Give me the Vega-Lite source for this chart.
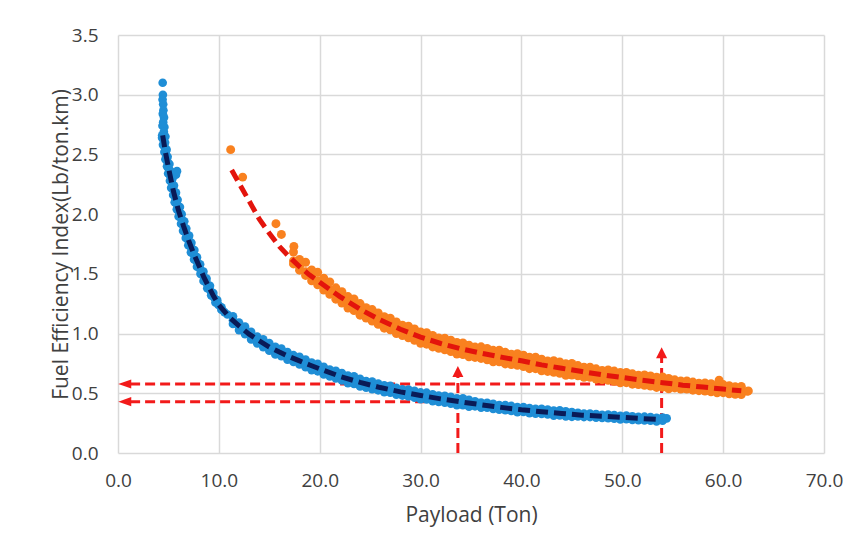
{
  "$schema": "https://vega.github.io/schema/vega-lite/v6.json",
  "width": 706,
  "height": 418,
  "autosize": "none",
  "padding": {"left": 118, "top": 35, "right": 27, "bottom": 91},
  "background": "white",
  "config": {
    "view": {"stroke": null},
    "font": "Open Sans",
    "axis": {
      "grid": true, "gridColor": "#d9d9d9", "gridWidth": 1.5,
      "domain": false, "ticks": false, "labelFlush": false,
      "labelFont": "Open Sans", "labelFontSize": 19, "labelColor": "#404040",
      "titleFont": "Open Sans", "titleFontSize": 21, "titleColor": "#404040", "titleFontWeight": "normal"
    }
  },
  "datasets": {
    "blue": [
      {"x":4.43,"y":3.10},{"x":4.45,"y":3.00},{"x":4.42,"y":2.96},{"x":4.48,"y":2.92},{"x":4.50,"y":2.87},{"x":4.44,"y":2.84},{"x":4.56,"y":2.81},{"x":4.48,"y":2.77},{"x":4.60,"y":2.73},{"x":4.41,"y":2.74},{"x":4.55,"y":2.69},{"x":4.38,"y":2.66},{"x":4.70,"y":2.65},
      {"x":4.37,"y":2.64},{"x":4.52,"y":2.62},{"x":4.67,"y":2.60},
      {"x":4.46,"y":2.58},{"x":4.64,"y":2.56},{"x":4.82,"y":2.54},
      {"x":4.60,"y":2.52},{"x":4.76,"y":2.50},{"x":4.92,"y":2.48},
      {"x":4.70,"y":2.46},{"x":4.90,"y":2.44},{"x":5.10,"y":2.42},
      {"x":4.86,"y":2.40},{"x":5.04,"y":2.38},{"x":5.22,"y":2.36},
      {"x":4.97,"y":2.34},{"x":5.19,"y":2.32},{"x":5.41,"y":2.30},
      {"x":5.15,"y":2.28},{"x":5.35,"y":2.26},{"x":5.55,"y":2.24},
      {"x":5.27,"y":2.22},{"x":5.51,"y":2.20},{"x":5.75,"y":2.18},
      {"x":5.47,"y":2.16},{"x":5.69,"y":2.14},{"x":5.91,"y":2.12},
      {"x":5.62,"y":2.10},{"x":5.88,"y":2.08},{"x":6.14,"y":2.06},
      {"x":5.83,"y":2.04},{"x":6.07,"y":2.02},{"x":6.31,"y":2.00},
      {"x":6.01,"y":1.98},{"x":6.29,"y":1.96},{"x":6.57,"y":1.94},
      {"x":6.25,"y":1.92},{"x":6.51,"y":1.90},{"x":6.77,"y":1.88},
      {"x":6.45,"y":1.86},{"x":6.75,"y":1.84},{"x":7.05,"y":1.82},
      {"x":6.72,"y":1.80},{"x":7.00,"y":1.78},{"x":7.28,"y":1.76},
      {"x":6.97,"y":1.74},{"x":7.27,"y":1.72},{"x":7.57,"y":1.70},
      {"x":7.23,"y":1.68},{"x":7.53,"y":1.66},{"x":7.83,"y":1.64},
      {"x":7.54,"y":1.62},{"x":7.84,"y":1.60},{"x":8.14,"y":1.58},
      {"x":7.83,"y":1.56},{"x":8.15,"y":1.54},{"x":8.47,"y":1.52},
      {"x":8.18,"y":1.50},{"x":8.48,"y":1.48},{"x":8.78,"y":1.46},
      {"x":8.48,"y":1.44},{"x":8.80,"y":1.42},{"x":9.12,"y":1.40},
      {"x":8.85,"y":1.38},{"x":9.15,"y":1.36},{"x":9.45,"y":1.34},
      {"x":9.24,"y":1.32},{"x":9.54,"y":1.30},{"x":9.84,"y":1.28},
      {"x":9.66,"y":1.26},{"x":9.96,"y":1.24},{"x":10.26,"y":1.22},
      {"x":10.25,"y":1.20},{"x":10.55,"y":1.18},{"x":10.85,"y":1.16},
      {"x":5.75,"y":2.33},{"x":5.85,"y":2.36},
      {"x":11.4,"y":1.144},{"x":11.4,"y":1.111},{"x":11.4,"y":1.081},
      {"x":12.0,"y":1.093},{"x":12.0,"y":1.065},{"x":12.0,"y":1.029},
      {"x":12.6,"y":1.058},{"x":12.6,"y":1.022},{"x":12.6,"y":0.995},
      {"x":13.2,"y":1.014},{"x":13.2,"y":0.984},{"x":13.2,"y":0.950},
      {"x":13.8,"y":0.975},{"x":13.8,"y":0.949},{"x":13.8,"y":0.918},
      {"x":14.4,"y":0.951},{"x":14.4,"y":0.916},{"x":14.4,"y":0.887},
      {"x":15.0,"y":0.920},{"x":15.0,"y":0.887},{"x":15.0,"y":0.857},
      {"x":15.6,"y":0.889},{"x":15.6,"y":0.861},{"x":15.6,"y":0.825},
      {"x":16.2,"y":0.874},{"x":16.2,"y":0.838},{"x":16.2,"y":0.811},
      {"x":16.8,"y":0.846},{"x":16.8,"y":0.816},{"x":16.8,"y":0.782},
      {"x":17.4,"y":0.819},{"x":17.4,"y":0.793},{"x":17.4,"y":0.762},
      {"x":18.0,"y":0.806},{"x":18.0,"y":0.771},{"x":18.0,"y":0.742},
      {"x":18.6,"y":0.782},{"x":18.6,"y":0.749},{"x":18.6,"y":0.719},
      {"x":19.2,"y":0.758},{"x":19.2,"y":0.730},{"x":19.2,"y":0.694},
      {"x":19.8,"y":0.747},{"x":19.8,"y":0.711},{"x":19.8,"y":0.684},
      {"x":20.4,"y":0.722},{"x":20.4,"y":0.692},{"x":20.4,"y":0.658},
      {"x":21.0,"y":0.698},{"x":21.0,"y":0.672},{"x":21.0,"y":0.641},
      {"x":21.6,"y":0.689},{"x":21.6,"y":0.654},{"x":21.6,"y":0.625},
      {"x":22.2,"y":0.670},{"x":22.2,"y":0.637},{"x":22.2,"y":0.607},
      {"x":22.8,"y":0.649},{"x":22.8,"y":0.621},{"x":22.8,"y":0.585},
      {"x":23.4,"y":0.642},{"x":23.4,"y":0.606},{"x":23.4,"y":0.579},
      {"x":24.0,"y":0.621},{"x":24.0,"y":0.591},{"x":24.0,"y":0.557},
      {"x":24.6,"y":0.603},{"x":24.6,"y":0.577},{"x":24.6,"y":0.546},
      {"x":25.2,"y":0.599},{"x":25.2,"y":0.564},{"x":25.2,"y":0.535},
      {"x":25.8,"y":0.582},{"x":25.8,"y":0.552},{"x":25.8,"y":0.525},
      {"x":26.4,"y":0.566},{"x":26.4,"y":0.541},{"x":26.4,"y":0.509},
      {"x":27.0,"y":0.562},{"x":27.0,"y":0.530},{"x":27.0,"y":0.505},
      {"x":27.6,"y":0.546},{"x":27.6,"y":0.519},{"x":27.6,"y":0.489},
      {"x":28.2,"y":0.533},{"x":28.2,"y":0.509},{"x":28.2,"y":0.481},
      {"x":28.8,"y":0.531},{"x":28.8,"y":0.500},{"x":28.8,"y":0.474},
      {"x":29.4,"y":0.520},{"x":29.4,"y":0.490},{"x":29.4,"y":0.463},
      {"x":30.0,"y":0.507},{"x":30.0,"y":0.482},{"x":30.0,"y":0.450},
      {"x":30.6,"y":0.505},{"x":30.6,"y":0.473},{"x":30.6,"y":0.448},
      {"x":31.2,"y":0.491},{"x":31.2,"y":0.464},{"x":31.2,"y":0.434},
      {"x":31.8,"y":0.480},{"x":31.8,"y":0.456},{"x":31.8,"y":0.428},
      {"x":32.4,"y":0.479},{"x":32.4,"y":0.448},{"x":32.4,"y":0.422},
      {"x":33.0,"y":0.470},{"x":33.0,"y":0.440},{"x":33.0,"y":0.413},
      {"x":33.6,"y":0.457},{"x":33.6,"y":0.432},{"x":33.6,"y":0.400},
      {"x":34.2,"y":0.457},{"x":34.2,"y":0.425},{"x":34.2,"y":0.400},
      {"x":34.8,"y":0.445},{"x":34.8,"y":0.418},{"x":34.8,"y":0.388},
      {"x":35.4,"y":0.433},{"x":35.4,"y":0.411},{"x":35.4,"y":0.391},
      {"x":36.0,"y":0.423},{"x":36.0,"y":0.404},{"x":36.0,"y":0.380},
      {"x":36.6,"y":0.421},{"x":36.6,"y":0.397},{"x":36.6,"y":0.379},
      {"x":37.2,"y":0.411},{"x":37.2,"y":0.391},{"x":37.2,"y":0.369},
      {"x":37.8,"y":0.402},{"x":37.8,"y":0.384},{"x":37.8,"y":0.363},
      {"x":38.4,"y":0.401},{"x":38.4,"y":0.378},{"x":38.4,"y":0.359},
      {"x":39.0,"y":0.394},{"x":39.0,"y":0.372},{"x":39.0,"y":0.352},
      {"x":39.6,"y":0.385},{"x":39.6,"y":0.366},{"x":39.6,"y":0.342},
      {"x":40.2,"y":0.385},{"x":40.2,"y":0.361},{"x":40.2,"y":0.343},
      {"x":40.8,"y":0.376},{"x":40.8,"y":0.356},{"x":40.8,"y":0.334},
      {"x":41.4,"y":0.369},{"x":41.4,"y":0.351},{"x":41.4,"y":0.330},
      {"x":42.0,"y":0.369},{"x":42.0,"y":0.346},{"x":42.0,"y":0.327},
      {"x":42.6,"y":0.364},{"x":42.6,"y":0.342},{"x":42.6,"y":0.322},
      {"x":43.2,"y":0.356},{"x":43.2,"y":0.337},{"x":43.2,"y":0.313},
      {"x":43.8,"y":0.357},{"x":43.8,"y":0.333},{"x":43.8,"y":0.315},
      {"x":44.4,"y":0.349},{"x":44.4,"y":0.329},{"x":44.4,"y":0.307},
      {"x":45.0,"y":0.342},{"x":45.0,"y":0.324},{"x":45.0,"y":0.303},
      {"x":45.6,"y":0.337},{"x":45.6,"y":0.321},{"x":45.6,"y":0.307},
      {"x":46.2,"y":0.331},{"x":46.2,"y":0.318},{"x":46.2,"y":0.301},
      {"x":46.8,"y":0.331},{"x":46.8,"y":0.314},{"x":46.8,"y":0.301},
      {"x":47.4,"y":0.326},{"x":47.4,"y":0.311},{"x":47.4,"y":0.295},
      {"x":48.0,"y":0.320},{"x":48.0,"y":0.308},{"x":48.0,"y":0.293},
      {"x":48.6,"y":0.322},{"x":48.6,"y":0.305},{"x":48.6,"y":0.291},
      {"x":49.2,"y":0.318},{"x":49.2,"y":0.302},{"x":49.2,"y":0.288},
      {"x":49.8,"y":0.312},{"x":49.8,"y":0.299},{"x":49.8,"y":0.282},
      {"x":50.4,"y":0.313},{"x":50.4,"y":0.296},{"x":50.4,"y":0.283},
      {"x":51.0,"y":0.308},{"x":51.0,"y":0.293},{"x":51.0,"y":0.277},
      {"x":51.6,"y":0.302},{"x":51.6,"y":0.290},{"x":51.6,"y":0.275},
      {"x":52.2,"y":0.304},{"x":52.2,"y":0.287},{"x":52.2,"y":0.273},
      {"x":52.8,"y":0.300},{"x":52.8,"y":0.284},{"x":52.8,"y":0.270},
      {"x":53.4,"y":0.294},{"x":53.4,"y":0.281},{"x":53.4,"y":0.264},
      {"x":54.0,"y":0.297},{"x":54.0,"y":0.282},{"x":54.0,"y":0.270},
      {"x":54.4,"y":0.290}
    ],
    "orange": [
      {"x":11.17,"y":2.54},{"x":12.36,"y":2.31},{"x":15.66,"y":1.92},{"x":16.2,"y":1.83},{"x":17.44,"y":1.73},
      {"x":17.4,"y":1.683},{"x":17.4,"y":1.608},{"x":17.4,"y":1.583},
      {"x":18.0,"y":1.621},{"x":18.0,"y":1.561},{"x":18.0,"y":1.531},
      {"x":18.6,"y":1.597},{"x":18.6,"y":1.517},{"x":18.6,"y":1.487},
      {"x":19.2,"y":1.532},{"x":19.2,"y":1.477},{"x":19.2,"y":1.442},
      {"x":19.8,"y":1.513},{"x":19.8,"y":1.443},{"x":19.8,"y":1.408},
      {"x":20.4,"y":1.464},{"x":20.4,"y":1.404},{"x":20.4,"y":1.364},
      {"x":21.0,"y":1.433},{"x":21.0,"y":1.368},{"x":21.0,"y":1.328},
      {"x":21.6,"y":1.383},{"x":21.6,"y":1.333},{"x":21.6,"y":1.288},
      {"x":22.2,"y":1.350},{"x":22.2,"y":1.300},{"x":22.2,"y":1.255},
      {"x":22.8,"y":1.310},{"x":22.8,"y":1.266},{"x":22.8,"y":1.214},
      {"x":23.4,"y":1.290},{"x":23.4,"y":1.235},{"x":23.4,"y":1.193},
      {"x":24.0,"y":1.251},{"x":24.0,"y":1.204},{"x":24.0,"y":1.154},
      {"x":24.6,"y":1.217},{"x":24.6,"y":1.176},{"x":24.6,"y":1.130},
      {"x":25.2,"y":1.201},{"x":25.2,"y":1.148},{"x":25.2,"y":1.104},
      {"x":25.8,"y":1.172},{"x":25.8,"y":1.122},{"x":25.8,"y":1.077},
      {"x":26.4,"y":1.141},{"x":26.4,"y":1.097},{"x":26.4,"y":1.045},
      {"x":27.0,"y":1.128},{"x":27.0,"y":1.073},{"x":27.0,"y":1.031},
      {"x":27.6,"y":1.097},{"x":27.6,"y":1.050},{"x":27.6,"y":1.000},
      {"x":28.2,"y":1.070},{"x":28.2,"y":1.029},{"x":28.2,"y":0.983},
      {"x":28.8,"y":1.061},{"x":28.8,"y":1.008},{"x":28.8,"y":0.964},
      {"x":29.4,"y":1.039},{"x":29.4,"y":0.989},{"x":29.4,"y":0.944},
      {"x":30.0,"y":1.014},{"x":30.0,"y":0.970},{"x":30.0,"y":0.918},
      {"x":30.6,"y":1.008},{"x":30.6,"y":0.953},{"x":30.6,"y":0.911},
      {"x":31.2,"y":0.985},{"x":31.2,"y":0.938},{"x":31.2,"y":0.888},
      {"x":31.8,"y":0.963},{"x":31.8,"y":0.922},{"x":31.8,"y":0.876},
      {"x":32.4,"y":0.961},{"x":32.4,"y":0.908},{"x":32.4,"y":0.864},
      {"x":33.0,"y":0.944},{"x":33.0,"y":0.894},{"x":33.0,"y":0.849},
      {"x":33.6,"y":0.925},{"x":33.6,"y":0.881},{"x":33.6,"y":0.829},
      {"x":34.2,"y":0.922},{"x":34.2,"y":0.867},{"x":34.2,"y":0.825},
      {"x":34.8,"y":0.903},{"x":34.8,"y":0.856},{"x":34.8,"y":0.806},
      {"x":35.4,"y":0.887},{"x":35.4,"y":0.846},{"x":35.4,"y":0.800},
      {"x":36.0,"y":0.889},{"x":36.0,"y":0.836},{"x":36.0,"y":0.792},
      {"x":36.6,"y":0.876},{"x":36.6,"y":0.826},{"x":36.6,"y":0.781},
      {"x":37.2,"y":0.860},{"x":37.2,"y":0.816},{"x":37.2,"y":0.764},
      {"x":37.8,"y":0.861},{"x":37.8,"y":0.806},{"x":37.8,"y":0.764},
      {"x":38.4,"y":0.843},{"x":38.4,"y":0.796},{"x":38.4,"y":0.746},
      {"x":39.0,"y":0.828},{"x":39.0,"y":0.787},{"x":39.0,"y":0.741},
      {"x":39.6,"y":0.831},{"x":39.6,"y":0.778},{"x":39.6,"y":0.734},
      {"x":40.2,"y":0.819},{"x":40.2,"y":0.769},{"x":40.2,"y":0.724},
      {"x":40.8,"y":0.802},{"x":40.8,"y":0.758},{"x":40.8,"y":0.706},
      {"x":41.4,"y":0.803},{"x":41.4,"y":0.748},{"x":41.4,"y":0.706},
      {"x":42.0,"y":0.785},{"x":42.0,"y":0.738},{"x":42.0,"y":0.688},
      {"x":42.6,"y":0.770},{"x":42.6,"y":0.729},{"x":42.6,"y":0.683},
      {"x":43.2,"y":0.773},{"x":43.2,"y":0.720},{"x":43.2,"y":0.676},
      {"x":43.8,"y":0.762},{"x":43.8,"y":0.712},{"x":43.8,"y":0.667},
      {"x":44.4,"y":0.747},{"x":44.4,"y":0.703},{"x":44.4,"y":0.651},
      {"x":45.0,"y":0.750},{"x":45.0,"y":0.695},{"x":45.0,"y":0.653},
      {"x":45.6,"y":0.732},{"x":45.6,"y":0.687},{"x":45.6,"y":0.647},
      {"x":46.2,"y":0.719},{"x":46.2,"y":0.679},{"x":46.2,"y":0.633},
      {"x":46.8,"y":0.719},{"x":46.8,"y":0.671},{"x":46.8,"y":0.633},
      {"x":47.4,"y":0.705},{"x":47.4,"y":0.663},{"x":47.4,"y":0.618},
      {"x":48.0,"y":0.692},{"x":48.0,"y":0.655},{"x":48.0,"y":0.614},
      {"x":48.6,"y":0.695},{"x":48.6,"y":0.648},{"x":48.6,"y":0.608},
      {"x":49.2,"y":0.686},{"x":49.2,"y":0.641},{"x":49.2,"y":0.601},
      {"x":49.8,"y":0.674},{"x":49.8,"y":0.634},{"x":49.8,"y":0.588},
      {"x":50.4,"y":0.675},{"x":50.4,"y":0.627},{"x":50.4,"y":0.589},
      {"x":51.0,"y":0.663},{"x":51.0,"y":0.621},{"x":51.0,"y":0.576},
      {"x":51.6,"y":0.651},{"x":51.6,"y":0.614},{"x":51.6,"y":0.573},
      {"x":52.2,"y":0.654},{"x":52.2,"y":0.607},{"x":52.2,"y":0.567},
      {"x":52.8,"y":0.646},{"x":52.8,"y":0.601},{"x":52.8,"y":0.561},
      {"x":53.4,"y":0.635},{"x":53.4,"y":0.595},{"x":53.4,"y":0.549},
      {"x":54.0,"y":0.637},{"x":54.0,"y":0.589},{"x":54.0,"y":0.551},
      {"x":54.6,"y":0.625},{"x":54.6,"y":0.583},{"x":54.6,"y":0.538},
      {"x":55.2,"y":0.613},{"x":55.2,"y":0.577},{"x":55.2,"y":0.545},
      {"x":55.8,"y":0.603},{"x":55.8,"y":0.572},{"x":55.8,"y":0.536},
      {"x":56.4,"y":0.604},{"x":56.4,"y":0.566},{"x":56.4,"y":0.536},
      {"x":57.0,"y":0.594},{"x":57.0,"y":0.561},{"x":57.0,"y":0.526},
      {"x":57.6,"y":0.584},{"x":57.6,"y":0.555},{"x":57.6,"y":0.522},
      {"x":58.2,"y":0.587},{"x":58.2,"y":0.550},{"x":58.2,"y":0.519},
      {"x":58.8,"y":0.581},{"x":58.8,"y":0.545},{"x":58.8,"y":0.513},
      {"x":59.4,"y":0.571},{"x":59.4,"y":0.540},{"x":59.4,"y":0.504},
      {"x":60.0,"y":0.573},{"x":60.0,"y":0.535},{"x":60.0,"y":0.505},
      {"x":60.6,"y":0.563},{"x":60.6,"y":0.530},{"x":60.6,"y":0.495},
      {"x":61.2,"y":0.554},{"x":61.2,"y":0.525},{"x":61.2,"y":0.492},
      {"x":61.8,"y":0.558},{"x":61.8,"y":0.521},{"x":61.8,"y":0.490},
      {"x":62.4,"y":0.516},{"x":62.5,"y":0.520},{"x":59.6,"y":0.610}
    ],
    "blueFit": [
      {"x":4.43,"y":2.66},{"x":4.7,"y":2.52},{"x":5.0,"y":2.39},{"x":5.5,"y":2.19},{"x":6.0,"y":2.03},{"x":6.5,"y":1.90},{"x":7.0,"y":1.78},{"x":7.5,"y":1.67},{"x":8.0,"y":1.575},{"x":8.5,"y":1.475},{"x":9.0,"y":1.39},{"x":9.5,"y":1.31},{"x":10,"y":1.24},{"x":11,"y":1.14},{"x":12,"y":1.065},{"x":13,"y":0.995},{"x":14,"y":0.94},{"x":15,"y":0.887},{"x":16,"y":0.845},{"x":17,"y":0.806},{"x":18,"y":0.771},{"x":19,"y":0.737},{"x":20,"y":0.705},{"x":22,"y":0.642},{"x":24,"y":0.591},{"x":26,"y":0.548},{"x":28,"y":0.512},{"x":30,"y":0.482},{"x":32,"y":0.453},{"x":34,"y":0.428},{"x":36,"y":0.404},{"x":38,"y":0.382},{"x":40,"y":0.362},{"x":42,"y":0.346},{"x":44,"y":0.331},{"x":46,"y":0.317},{"x":48,"y":0.308},{"x":50,"y":0.298},{"x":52,"y":0.288},{"x":53.5,"y":0.281}
    ],
    "orangeFit": [
      {"x":11.27,"y":2.37},{"x":12,"y":2.26},{"x":13,"y":2.11},{"x":14,"y":1.96},{"x":15,"y":1.84},{"x":16,"y":1.73},{"x":17,"y":1.64},{"x":18,"y":1.561},{"x":19,"y":1.49},{"x":20,"y":1.43},{"x":21,"y":1.368},{"x":22,"y":1.31},{"x":24,"y":1.204},{"x":26,"y":1.114},{"x":28,"y":1.036},{"x":30,"y":0.97},{"x":32,"y":0.917},{"x":34,"y":0.872},{"x":36,"y":0.836},{"x":38,"y":0.803},{"x":40,"y":0.772},{"x":42,"y":0.738},{"x":44,"y":0.709},{"x":46,"y":0.682},{"x":48,"y":0.655},{"x":50,"y":0.632},{"x":52,"y":0.609},{"x":54,"y":0.589},{"x":56,"y":0.568},{"x":58,"y":0.552},{"x":60,"y":0.535},{"x":61.8,"y":0.521}
    ],
    "arrows": [
      {"x":1.2,"y":0.578,"x2":54.0,"y2":0.578},
      {"x":1.2,"y":0.43,"x2":33.7,"y2":0.43},
      {"x":33.7,"y":0,"x2":33.7,"y2":0.645},
      {"x":53.9,"y":0,"x2":53.9,"y2":0.80}
    ],
    "heads": [
      {"x":0.67,"y":0.578,"dir":"left"},
      {"x":0.67,"y":0.43,"dir":"left"},
      {"x":33.7,"y":0.683,"dir":"up"},
      {"x":53.9,"y":0.839,"dir":"up"}
    ]
  },
  "encoding": {
    "x": {"field": "x", "type": "quantitative",
      "scale": {"domain": [0, 70], "nice": false},
      "axis": {"title": "Payload (Ton)", "values": [0,10,20,30,40,50,60,70], "format": ".1f", "labelPadding": 18, "titlePadding": 14}},
    "y": {"field": "y", "type": "quantitative",
      "scale": {"domain": [0, 3.5], "nice": false},
      "axis": {"title": "Fuel Efficiency Index(Lb/ton.km)", "values": [0,0.5,1,1.5,2,2.5,3,3.5], "format": ".1f", "labelPadding": 20, "titlePadding": 0}}
  },
  "layer": [
    {"data": {"name": "arrows"},
     "mark": {"type": "rule", "color": "#F21A1A", "strokeWidth": 3, "strokeDash": [10, 5]},
     "encoding": {"x2": {"field": "x2"}, "y2": {"field": "y2"}}},
    {"data": {"name": "heads"},
     "mark": {"type": "point", "filled": true, "color": "#F21A1A", "opacity": 1, "size": 169, "strokeWidth": 0},
     "encoding": {"shape": {"field": "dir", "type": "nominal", "legend": null,
       "scale": {"domain": ["left", "up"], "range": ["M-1,0L1,-0.7L1,0.7Z", "M0,-0.85L0.85,0.85L-0.85,0.85Z"]}}}},
    {"data": {"name": "blue"},
     "mark": {"type": "circle", "size": 75, "color": "#1F8ED6", "opacity": 1}},
    {"data": {"name": "orange"},
     "mark": {"type": "circle", "size": 80, "color": "#F9811F", "opacity": 1}},
    {"data": {"name": "blueFit"},
     "mark": {"type": "line", "color": "#0A1B57", "strokeWidth": 5, "strokeDash": [12, 6]},
     "encoding": {"order": {"field": "x", "type": "quantitative"}}},
    {"data": {"name": "orangeFit"},
     "mark": {"type": "line", "color": "#E3140C", "strokeWidth": 5, "strokeDash": [12, 6]},
     "encoding": {"order": {"field": "x", "type": "quantitative"}}}
  ]
}
